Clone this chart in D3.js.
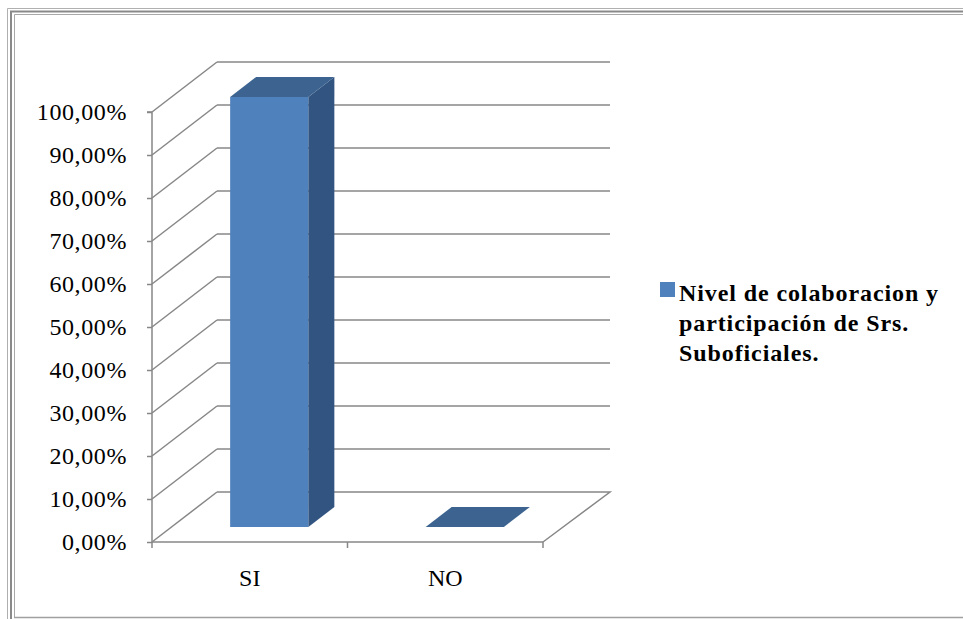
<!DOCTYPE html>
<html><head><meta charset="utf-8">
<script src="https://cdn.jsdelivr.net/npm/d3@7"></script>
<style>html,body{margin:0;padding:0;background:#fff;}svg{display:block;}</style>
</head><body>
<svg id="c" width="963" height="619"></svg>
<script>
const categories = ["SI", "NO"];
const values = [1.0, 0.0];
const tickValues = [0,0.1,0.2,0.3,0.4,0.5,0.6,0.7,0.8,0.9,1.0];
const seriesName = ["Nivel de colaboracion y", "participación de Srs.", "Suboficiales."];

const FONT = '"Liberation Serif"';
const svg = d3.select("#c");
const W = 963, H = 619;

// frame
const fr = svg.append("g");
fr.append("path").attr("d", `M7.5,${H} V8.5 H${W}`).attr("fill","none").attr("stroke","#b0b0b0").attr("stroke-width",1);
fr.append("path").attr("d", `M11,${H} V11.5 H${W}`).attr("fill","none").attr("stroke","#8a8a8a").attr("stroke-width",2);
fr.append("path").attr("d", `M14.5,617.5 V14.5 H${W}`).attr("fill","none").attr("stroke","#a8a8a8").attr("stroke-width",1);
fr.append("line").attr("x1",14).attr("x2",W).attr("y1",617.5).attr("y2",617.5).attr("stroke","#a0a0a0").attr("stroke-width",1.5);

const x0 = 152, x1 = 543;
const DX = 65, DY = -50;
const x = d3.scaleBand().domain(categories).range([x0, x1]).paddingInner(0).paddingOuter(0);
const y = d3.scaleLinear().domain([0, 1]).range([542, 112]);
const grid = "#878787";
const g = svg.append("g");

tickValues.forEach(v => {
  const yy = y(v);
  g.append("line").attr("x1", x0).attr("y1", yy).attr("x2", x0 + DX).attr("y2", yy + DY)
    .attr("stroke", grid).attr("stroke-width", 1.5);
  if (v > 0) {
    g.append("line").attr("x1", x0 + DX).attr("y1", yy + DY).attr("x2", x1 + DX + 2).attr("y2", yy + DY)
      .attr("stroke", grid).attr("stroke-width", 1.5);
  }
});
g.append("path").attr("d", `M${x0+DX},${y(0)+DY} H${x1+DX+2} L${x1},${y(0)}`)
  .attr("fill","none").attr("stroke",grid).attr("stroke-width",1.5);

// y axis
const yAxis = d3.axisLeft(y).tickValues(tickValues).tickSize(5).tickPadding(20)
  .tickFormat(d => d3.format(".2f")(d*100).replace(".", ",") + "%");
const ya = g.append("g").attr("transform", `translate(${x0},0)`).call(yAxis);
ya.select(".domain").attr("stroke", grid).attr("stroke-width",1.5).attr("d", `M-5,${y(1)}H0V${y(0)}`);
ya.selectAll(".tick line").attr("stroke", grid).attr("stroke-width",1.5);
ya.selectAll(".tick text").style("font-family", FONT).style("font-size", "24px")
  .style("letter-spacing", "0.6px").attr("fill","#000");

// x axis
const xAxis = d3.axisBottom(x).tickSize(0).tickPadding(27);
const xa = g.append("g").attr("transform", `translate(0,${y(0)})`).call(xAxis);
xa.select(".domain").attr("stroke", grid).attr("stroke-width",1.5).attr("d", `M${x0},0H${x1}`);
xa.selectAll(".tick text").style("font-family", FONT).style("font-size", "24px").attr("fill","#000");
[x0, x0 + x.bandwidth(), x1].forEach(t => {
  xa.append("line").attr("x1", t).attr("x2", t).attr("y1", 0).attr("y2", 6)
    .attr("stroke", grid).attr("stroke-width", 1.5);
});

// bars
const gap = 1.5;
const bw = x.bandwidth() / (1 + gap);
const dF = 0.3, dB = 0.7;
categories.forEach((c, i) => {
  const v = values[i];
  const bx = x(c) + (x.bandwidth() - bw) / 2;
  const fx = bx + DX * dF, fy = DY * dF;
  const bxx = bx + DX * dB, byy = DY * dB;
  const yb = y(0), yt = y(v);
  const bar = svg.append("g");
  if (v > 0) {
    bar.append("path").attr("d", `M${fx},${yb+fy} H${fx+bw} V${yt+fy} H${fx} Z`).attr("fill", "#4f81bd");
    bar.append("path").attr("d", `M${fx+bw},${yb+fy} L${bxx+bw},${yb+byy} V${yt+byy} L${fx+bw},${yt+fy} Z`).attr("fill", "#325481");
  }
  bar.append("path").attr("d", `M${fx},${yt+fy} H${fx+bw} L${bxx+bw},${yt+byy} H${bxx} Z`).attr("fill", "#3d6491");
});

// legend
const lg = svg.append("g");
lg.append("rect").attr("x", 660).attr("y", 282).attr("width", 15).attr("height", 15).attr("fill", "#4f81bd");
const lt = lg.append("text").style("font-family", FONT)
  .style("font-size", "24px").style("font-weight", "bold").style("letter-spacing", "0.9px").attr("fill", "#000");
seriesName.forEach((s, i) => {
  lt.append("tspan").attr("x", 679).attr("y", 301 + i * 30).text(s);
});
</script>
</body></html>
